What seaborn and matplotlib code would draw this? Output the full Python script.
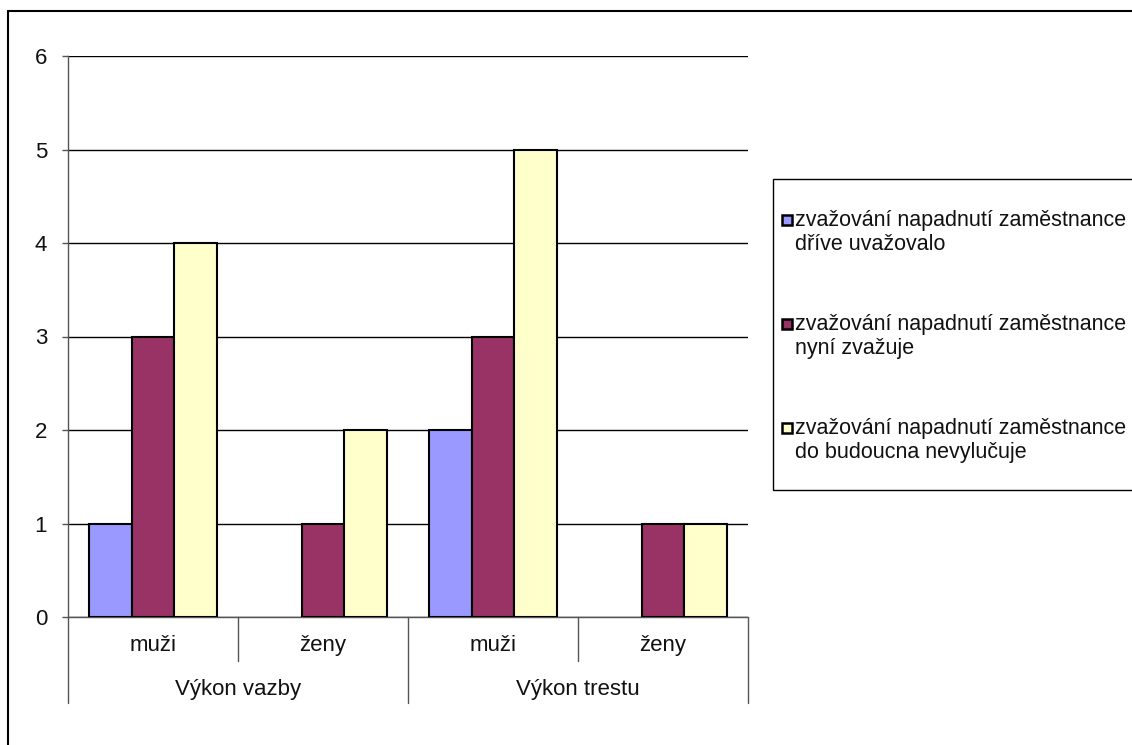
import pandas as pd
import matplotlib.pyplot as plt
import matplotlib.patches as mpatches
import seaborn as sns

# Data
groups = ["Výkon vazby", "Výkon vazby", "Výkon trestu", "Výkon trestu"]
subgroups = ["muži", "ženy", "muži", "ženy"]
series = ["zvažování napadnutí zaměstnance\ndříve uvažovalo",
          "zvažování napadnutí zaměstnance\nnyní zvažuje",
          "zvažování napadnutí zaměstnance\ndo budoucna nevylučuje"]
drive_uvazovalo = [1, 0, 2, 0]
nyni_zvazuje = [3, 1, 3, 1]
nevylucuje = [4, 2, 5, 1]
colors = ["#9999FF", "#993366", "#FFFFCC"]
y_ticks = [0, 1, 2, 3, 4, 5, 6]

W, H = 1132, 745


def fx(px):
    return px / W


def fy(py):
    return 1 - py / H


sns.set_style("white")
plt.rcParams["font.family"] = ["Liberation Sans", "DejaVu Sans"]
plt.rcParams["font.size"] = 16
plt.rcParams["text.color"] = "#111111"

# long format table for seaborn
keys = ["{}|{}".format(g, s) for g, s in zip(groups, subgroups)]
rows = []
for name, vals in zip(series, [drive_uvazovalo, nyni_zvazuje, nevylucuje]):
    for k, v in zip(keys, vals):
        rows.append({"cat": k, "series": name, "value": v})
df = pd.DataFrame(rows)

fig = plt.figure(figsize=(W / 100, H / 100), dpi=100)
ax = fig.add_axes([fx(68), fy(617), fx(748) - fx(68), fy(56) - fy(617)])

sns.barplot(data=df, x="cat", y="value", hue="series", order=keys,
            hue_order=series, palette=colors, saturation=1, width=0.75, ax=ax,
            edgecolor="black", linewidth=1.5, legend=False, zorder=3)
# hide the outline of empty bars
for p in ax.patches:
    if p.get_height() == 0:
        p.set_linewidth(0)

ax.set_ylim(0, 6)
ax.set_xlim(-0.5, len(keys) - 0.5)
ax.set_yticks(y_ticks)
ax.set_yticklabels([str(t) for t in y_ticks], fontsize=16, color="#111111")
ax.yaxis.grid(True, color="black", linewidth=1, zorder=0)
ax.set_axisbelow(True)
ax.set_xlabel("")
ax.set_ylabel("")
ax.set_xticks([])
for side in ["top", "right", "bottom"]:
    ax.spines[side].set_visible(False)
ax.spines["left"].set_color("#555555")
ax.spines["left"].set_linewidth(1)
ax.tick_params(axis="y", which="both", left=True, length=4.5, width=1,
               color="#555555", pad=10.5)

# category axis drawn Excel style under the plot (axes height is 561 px)
trans = ax.get_xaxis_transform()
ax.plot([-0.5, len(keys) - 0.5], [0, 0], color="#555555", lw=1,
        transform=trans, clip_on=False)
for i, sub in enumerate(subgroups):
    ax.text(i, -34 / 561, sub, ha="center", va="baseline", transform=trans)
for xb in [0.5, 2.5]:
    ax.plot([xb, xb], [0, -44 / 561], color="#555555", lw=1,
            transform=trans, clip_on=False)
for xb in [-0.5, 1.5, 3.5]:
    ax.plot([xb, xb], [0, -86 / 561], color="#555555", lw=1,
            transform=trans, clip_on=False)
for pos, g in [(0.5, groups[0]), (2.5, groups[2])]:
    ax.text(pos, -78 / 561, g, ha="center", va="baseline", transform=trans)

# legend box
fig.patches.append(mpatches.Rectangle((fx(773), fy(490)), fx(1200) - fx(773),
                                      fy(179) - fy(490), transform=fig.transFigure,
                                      facecolor="white", edgecolor="black",
                                      linewidth=1))
for i, (name, col) in enumerate(zip(series, colors)):
    first = 220 + i * 104
    fig.patches.append(mpatches.Rectangle((fx(782), fy(first + 5)), fx(10), fy(0) - fy(10),
                                          transform=fig.transFigure, facecolor=col,
                                          edgecolor="black", linewidth=1.8))
    fig.text(fx(795), fy(first + 12.5), name, ha="left", va="center",
             fontsize=15.5, linespacing=1.15)

# outer chart border (only top and left are inside the image)
fig.add_artist(plt.Line2D([fx(8), fx(1140)], [fy(11), fy(11)], color="black",
                          lw=1.5, transform=fig.transFigure))
fig.add_artist(plt.Line2D([fx(8), fx(8)], [fy(11), fy(760)], color="black",
                          lw=1.5, transform=fig.transFigure))

plt.savefig("out.png", dpi=100)
